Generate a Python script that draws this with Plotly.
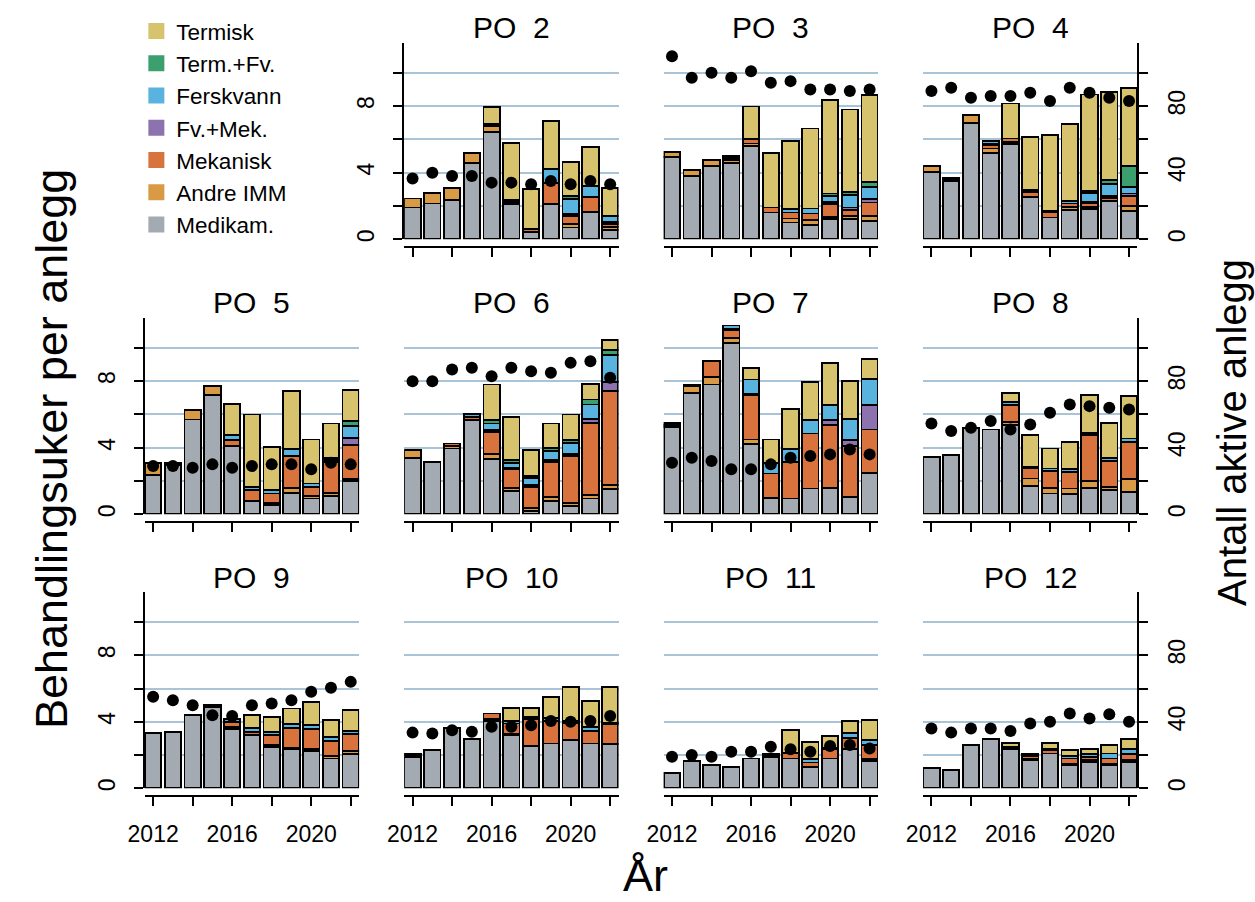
import plotly.graph_objects as go

W, H = 1255, 902
years = list(range(2012, 2023))
panel_names = ["PO  2", "PO  3", "PO  4", "PO  5", "PO  6", "PO  7",
               "PO  8", "PO  9", "PO  10", "PO  11", "PO  12"]

# Behandlingsuker per anlegg, one row per panel (PO 2 ... PO 12), years 2012-2022
medikam = [
    [1.9, 2.15, 2.37, 4.6, 6.45, 2.1, 0.45, 2.1, 0.7, 1.65, 0.55],
    [4.95, 3.8, 4.4, 4.6, 5.6, 1.6, 1.0, 0.85, 1.2, 1.2, 1.1],
    [4.05, 3.5, 7.0, 5.2, 5.7, 2.55, 1.3, 1.75, 1.8, 2.3, 1.7],
    [2.35, 2.95, 5.7, 7.15, 4.1, 0.8, 0.55, 1.3, 0.95, 1.1, 2.0],
    [3.4, 3.15, 3.95, 5.65, 3.3, 1.4, 0.2, 0.8, 0.5, 0.95, 1.5],
    [5.25, 7.3, 7.8, 10.3, 4.2, 1.0, 0.95, 1.55, 1.6, 1.05, 2.5],
    [3.45, 3.55, 5.15, 5.1, 5.35, 1.7, 1.25, 1.2, 1.6, 1.45, 1.35],
    [3.35, 3.4, 4.4, 4.9, 3.55, 3.2, 2.5, 2.35, 2.25, 1.8, 2.05],
    [1.9, 2.3, 3.65, 2.95, 4.05, 3.2, 2.55, 2.7, 2.9, 2.7, 2.65],
    [0.9, 1.66, 1.4, 1.3, 1.8, 1.9, 1.8, 1.3, 1.8, 2.35, 1.65],
    [1.22, 1.12, 2.6, 2.95, 2.35, 1.7, 2.1, 1.4, 1.6, 1.4, 1.6],
]
andre_imm = [
    [0.55, 0.65, 0.72, 0.6, 0.35, 0, 0, 0, 0.2, 0, 0.2],
    [0.3, 0.35, 0.38, 0.15, 0.15, 0, 0.25, 0.3, 0.15, 0.2, 0.3],
    [0.35, 0.1, 0.45, 0.25, 0.15, 0, 0, 0.2, 0.15, 0, 0.3],
    [0.75, 0.15, 0.55, 0.55, 0, 0, 0.15, 0.3, 0.15, 0.2, 0.1],
    [0.45, 0, 0.15, 0, 0.3, 0.2, 0.2, 0.25, 0.2, 0.2, 0.25],
    [0.1, 0.4, 0.45, 0.3, 0.3, 0, 0, 0, 0, 0, 0],
    [0, 0, 0.05, 0, 0.2, 0.45, 0.35, 0.35, 0.4, 0.2, 0.75],
    [0, 0, 0, 0.1, 0.15, 0, 0.1, 0.1, 0.1, 0.15, 0.2],
    [0.1, 0, 0, 0, 0.1, 0.1, 0, 0, 0, 0, 0],
    [0, 0, 0, 0, 0, 0, 0, 0, 0, 0, 0.1],
    [0, 0, 0, 0, 0, 0.1, 0, 0.1, 0.1, 0.1, 0.1],
]
mekanisk = [
    [0, 0, 0, 0, 0.1, 0.15, 0.15, 1.3, 0.5, 0.9, 0.15],
    [0, 0, 0, 0.15, 0.25, 0.3, 0.35, 0.4, 0.75, 0.35, 0.8],
    [0, 0.1, 0, 0.2, 0.2, 0.3, 0.3, 0.2, 0.2, 0.2, 0.6],
    [0, 0, 0, 0, 0.35, 0.65, 0.55, 1.9, 0.55, 1.85, 2.05],
    [0, 0, 0.15, 0.2, 1.35, 1.1, 1.25, 2.1, 2.8, 4.35, 5.65],
    [0.15, 0.1, 0.95, 0.45, 2.65, 1.45, 2.2, 3.3, 3.75, 3.05, 2.6],
    [0, 0, 0, 0, 1.0, 0.6, 1.0, 1.0, 2.75, 1.55, 2.25],
    [0, 0, 0, 0, 0.3, 0.2, 0.6, 1.2, 1.2, 0.9, 1.0],
    [0.1, 0, 0, 0, 0.35, 0.6, 1.6, 1.35, 1.05, 0.75, 1.2],
    [0, 0, 0, 0, 0, 0.1, 0.3, 0.25, 0.55, 0.7, 0.85],
    [0, 0, 0, 0, 0.1, 0.15, 0.2, 0.3, 0.2, 0.3, 0.35],
]
fv_mek = [
    [0, 0, 0, 0, 0, 0, 0, 0, 0.1, 0, 0.15],
    [0, 0, 0, 0, 0, 0, 0, 0, 0.15, 0.15, 0.2],
    [0, 0, 0, 0.1, 0, 0, 0, 0, 0.1, 0.1, 0.15],
    [0, 0, 0, 0, 0, 0, 0, 0, 0, 0.1, 0.45],
    [0, 0, 0, 0, 0.1, 0.1, 0.1, 0.1, 0.1, 0.25, 0.55],
    [0, 0, 0, 0.1, 0.1, 0, 0, 0, 0.3, 0.35, 1.45],
    [0, 0, 0, 0, 0, 0, 0, 0, 0, 0, 0],
    [0, 0, 0, 0, 0, 0, 0, 0, 0, 0, 0],
    [0, 0, 0, 0, 0, 0, 0, 0, 0, 0, 0],
    [0, 0, 0, 0, 0, 0, 0, 0, 0, 0, 0],
    [0, 0, 0, 0, 0, 0, 0, 0, 0, 0, 0],
]
ferskvann = [
    [0, 0, 0, 0, 0, 0.1, 0, 0.8, 0.9, 0.65, 0.35],
    [0, 0, 0, 0.1, 0, 0, 0.2, 0.3, 0.35, 0.75, 0.75],
    [0, 0, 0, 0.15, 0, 0.1, 0.1, 0.15, 0.55, 0.7, 0.4],
    [0, 0, 0, 0, 0.3, 0.2, 0.2, 0.4, 0.2, 0.15, 0.7],
    [0, 0, 0, 0.2, 0.4, 0.3, 0.45, 0.55, 0.7, 0.85, 1.6],
    [0, 0, 0, 0.2, 0.85, 0.65, 0.75, 0.8, 0.9, 1.3, 1.6],
    [0, 0, 0, 0, 0.2, 0.1, 0.15, 0.15, 0.15, 0.2, 0.2],
    [0, 0, 0, 0, 0.15, 0.25, 0.2, 0.2, 0.25, 0.25, 0.2],
    [0, 0, 0, 0, 0, 0.15, 0.15, 0.2, 0.1, 0.25, 0.1],
    [0, 0, 0, 0, 0, 0.1, 0.05, 0.2, 0.1, 0.3, 0.3],
    [0, 0, 0, 0, 0.05, 0.1, 0.1, 0.15, 0.15, 0.3, 0.3],
]
term_fv = [
    [0, 0, 0, 0, 0, 0, 0, 0, 0.2, 0, 0],
    [0, 0, 0, 0, 0, 0, 0, 0, 0.15, 0.2, 0.3],
    [0, 0, 0, 0, 0, 0, 0, 0, 0.1, 0.25, 1.25],
    [0, 0, 0, 0, 0, 0, 0, 0, 0, 0, 0.3],
    [0, 0, 0, 0, 0.2, 0.15, 0.1, 0.2, 0.15, 0.3, 0.3],
    [0, 0, 0, 0, 0, 0, 0, 0, 0, 0, 0],
    [0, 0, 0, 0, 0, 0, 0, 0, 0, 0, 0],
    [0, 0, 0, 0, 0, 0, 0, 0, 0, 0, 0],
    [0, 0, 0, 0, 0, 0, 0, 0, 0, 0, 0],
    [0, 0, 0, 0, 0, 0, 0, 0, 0, 0, 0],
    [0, 0, 0, 0, 0, 0, 0, 0, 0, 0, 0],
]
termisk = [
    [0, 0, 0, 0, 1.05, 3.43, 2.4, 2.9, 2.05, 2.35, 1.7],
    [0, 0, 0, 0, 1.97, 3.26, 4.1, 4.8, 5.6, 4.95, 5.2],
    [0, 0, 0, 0, 2.1, 3.2, 4.55, 4.6, 5.8, 5.3, 4.7],
    [0, 0, 0, 0, 1.9, 4.35, 2.6, 3.5, 2.65, 2.05, 1.85],
    [0, 0, 0, 0, 2.15, 2.6, 1.55, 1.45, 1.55, 0.95, 0.6],
    [0, 0, 0, 0, 0.7, 1.4, 2.45, 2.3, 2.55, 2.25, 1.2],
    [0, 0, 0, 0, 0.55, 1.9, 1.2, 1.65, 2.25, 2.1, 2.55],
    [0, 0, 0, 0, 0, 0.75, 0.9, 0.95, 1.4, 1.0, 1.25],
    [0, 0, 0, 0, 0, 0.8, 0.55, 1.25, 2.05, 1.55, 2.15],
    [0, 0, 0, 0, 0, 0, 1.35, 1.05, 0.7, 0.7, 1.2],
    [0, 0, 0, 0, 0.25, 0, 0.35, 0.35, 0.3, 0.5, 0.6],
]
# Antall aktive anlegg (dots, right axis)
aktive_anlegg = [
    [36.5, 40, 38, 38, 34, 34, 33, 35, 33, 35, 33],
    [110, 97, 100, 97, 101, 94, 95, 90, 90, 89, 90],
    [89, 91, 85, 86, 86, 88, 83, 91, 88, 85, 83],
    [29, 29, 28, 30, 28, 29, 30, 30, 27, 31, 30],
    [80, 80, 87, 88, 83, 88, 86, 85, 91, 92, 82],
    [31, 34, 32, 27, 27, 30, 34, 35, 36, 39, 36],
    [54.5, 50, 52, 56, 51, 54, 61, 66, 65, 64, 63],
    [55, 53, 50, 44, 43.5, 50, 51, 53, 58, 60.5, 64],
    [33.5, 33, 35, 34, 37, 37, 38, 40.5, 40, 40.5, 43.5],
    [19, 20, 19, 22, 22, 25, 23.5, 22, 25.5, 26, 24],
    [36, 33.5, 36, 36, 34.5, 39, 40, 45, 42, 44.5, 40],
]

# stacking order bottom -> top
series = [
    ("Medikam.", medikam, "#A4AAB1"),
    ("Andre IMM", andre_imm, "#D89A45"),
    ("Mekanisk", mekanisk, "#D8733D"),
    ("Fv.+Mek.", fv_mek, "#8D72B0"),
    ("Ferskvann", ferskvann, "#58B3DE"),
    ("Term.+Fv.", term_fv, "#3B9F6E"),
    ("Termisk", termisk, "#D7C26D"),
]

x_ticks = [2012, 2014, 2016, 2018, 2020, 2022]
x_ticktext = ["2012", "", "2016", "", "2020", ""]
y_ticks = [0, 2, 4, 6, 8, 10]
y_ticktext = ["0", "", "4", "", "8", ""]
y2_ticks = [0, 20, 40, 60, 80, 100]
y2_ticktext = ["0", "", "40", "", "80", ""]

FONT = "Liberation Sans, Arial, Helvetica, sans-serif"
COL_LEFT = [129.5, 392.5, 655.5, 918.5]
PW = 217.3
ROW_BOTTOM = [240, 516, 791]
PH = 197
GRID = "#A9C4D6"


def fx(px):
    return px / W


def fy(py):
    return 1 - py / H


fig = go.Figure()
layout = {}
annotations = []

for p, name in enumerate(panel_names):
    r, c = divmod(p + 1, 4)
    xi = p + 1
    yi1 = 2 * p + 1
    yi2 = 2 * p + 2
    xref = "x" if xi == 1 else f"x{xi}"
    yref1 = "y" if yi1 == 1 else f"y{yi1}"
    yref2 = f"y{yi2}"
    left = COL_LEFT[c]
    bottom = ROW_BOTTOM[r]
    is_left = (c == 0) or (r == 0 and c == 1)
    is_right = c == 3
    is_bottom = r == 2

    layout["xaxis" if xi == 1 else f"xaxis{xi}"] = dict(
        domain=[fx(left), fx(left + PW)], range=[2011.576, 2022.424],
        anchor="free", position=fy(bottom + 8),
        showline=True, linecolor="black", linewidth=2,
        ticks="outside", ticklen=9, tickwidth=2, tickcolor="black",
        tickvals=x_ticks, ticktext=x_ticktext,
        showticklabels=is_bottom, ticklabelstandoff=8,
        tickfont=dict(size=23, color="black", family=FONT),
        showgrid=False, zeroline=False, fixedrange=True,
    )
    layout["yaxis" if yi1 == 1 else f"yaxis{yi1}"] = dict(
        domain=[fy(bottom), fy(bottom - PH)], range=[0, 11.8],
        anchor=xref, showgrid=True, gridcolor=GRID, gridwidth=1.5,
        tickvals=y_ticks, ticktext=y_ticktext, tickangle=-90,
        showline=is_left, linecolor="black", linewidth=2,
        ticks="outside" if is_left else "", ticklen=9, tickwidth=2,
        tickcolor="black", showticklabels=is_left, ticklabelstandoff=10,
        tickfont=dict(size=23, color="black", family=FONT),
        zeroline=False, fixedrange=True,
    )
    layout[f"yaxis{yi2}"] = dict(
        overlaying=yref1, side="right", anchor=xref, range=[0, 118],
        visible=is_right, showgrid=False, zeroline=False,
        tickvals=y2_ticks, ticktext=y2_ticktext, tickangle=-90,
        showline=True, linecolor="black", linewidth=2,
        ticks="outside", ticklen=9, tickwidth=2, tickcolor="black",
        ticklabelstandoff=9,
        tickfont=dict(size=23, color="black", family=FONT),
        fixedrange=True,
    )

    for label, data, color in series:
        vals = [v if v > 0 else None for v in data[p]]
        fig.add_trace(go.Bar(
            x=years, y=vals, width=0.83, name=label,
            marker=dict(color=color, line=dict(color="black", width=1.8)),
            xaxis=xref, yaxis=yref1, showlegend=False, hoverinfo="skip",
        ))
    fig.add_trace(go.Scatter(
        x=years, y=aktive_anlegg[p], mode="markers",
        marker=dict(color="black", size=12),
        xaxis=xref, yaxis=yref2, showlegend=False, cliponaxis=False,
        hoverinfo="skip",
    ))

    annotations.append(dict(
        text=name, x=fx(left + PW / 2), y=fy(bottom - PH - 15),
        xref="paper", yref="paper", xanchor="center", yanchor="middle",
        showarrow=False, font=dict(size=30, color="black", family=FONT),
    ))

# legend entries (top-to-bottom: Termisk ... Medikam.)
for label, data, color in reversed(series):
    fig.add_trace(go.Scatter(
        x=[None], y=[None], mode="markers", name=label,
        marker=dict(symbol="square", size=17, color=color),
        xaxis="x", yaxis="y", showlegend=True, hoverinfo="skip",
    ))

annotations += [
    dict(text="Behandlingsuker per anlegg", x=fx(35), y=fy(451), textangle=-90,
         xref="paper", yref="paper", xanchor="center", yanchor="middle",
         showarrow=False, font=dict(size=45, color="black", family=FONT)),
    dict(text="Antall aktive anlegg", x=fx(1231), y=fy(434), textangle=-90,
         xref="paper", yref="paper", xanchor="center", yanchor="middle",
         showarrow=False, font=dict(size=40, color="black", family=FONT)),
    dict(text="År", x=fx(637), y=fy(878),
         xref="paper", yref="paper", xanchor="center", yanchor="middle",
         showarrow=False, font=dict(size=45, color="black", family=FONT)),
]

fig.update_layout(
    width=W, height=H, margin=dict(l=0, r=0, t=0, b=0),
    paper_bgcolor="white", plot_bgcolor="rgba(0,0,0,0)",
    barmode="stack", font=dict(family=FONT, color="black"),
    showlegend=True,
    legend=dict(x=fx(121), y=fy(10), xanchor="left", yanchor="top",
                font=dict(size=22.5, family=FONT, color="black"),
                bgcolor="rgba(0,0,0,0)", traceorder="normal",
                itemsizing="trace"),
    annotations=annotations,
    **layout,
)

fig.write_html("out.html",
               config={"displayModeBar": False},
               post_script="document.body.style.margin='0px';"
                           "document.body.style.padding='0px';")
